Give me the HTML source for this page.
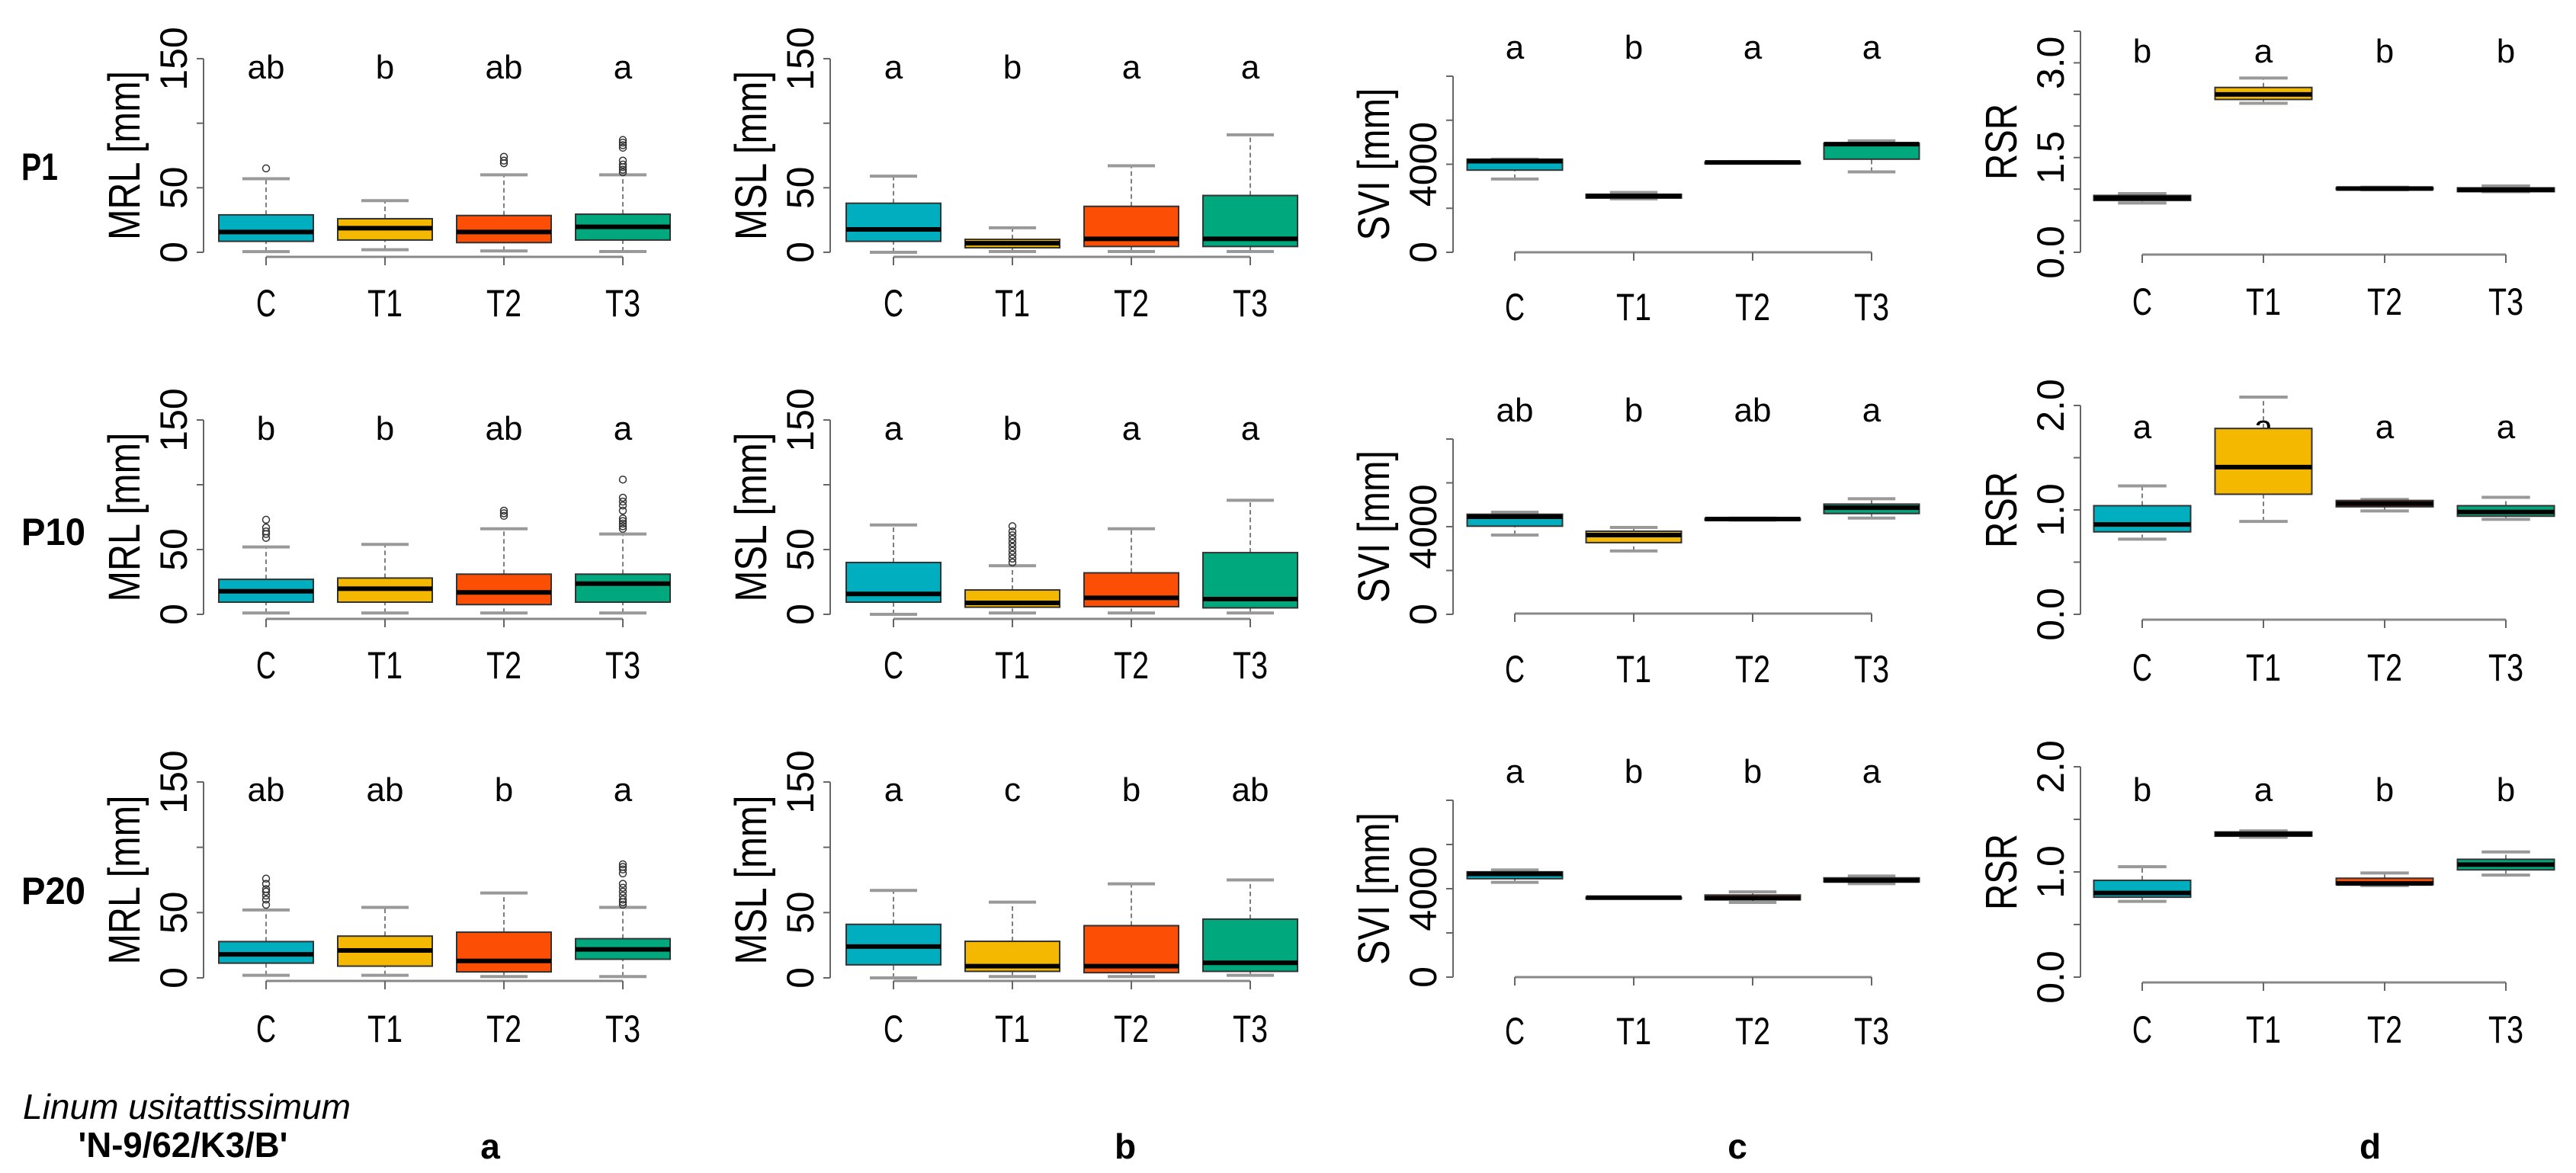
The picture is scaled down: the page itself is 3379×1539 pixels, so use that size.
<!DOCTYPE html>
<html><head><meta charset="utf-8">
<style>
html,body{margin:0;padding:0;background:#fff;}
svg{display:block;font-family:"Liberation Sans",sans-serif;}
</style></head>
<body>
<svg id="fig" width="3379" height="1539" viewBox="0 0 3379 1539" xmlns="http://www.w3.org/2000/svg"></svg>
<script>
const groups=["C","T1","T2","T3"];
const colors=["#00AFBF","#F5B800","#FC4E05","#00A87E"];
// stats: [lower whisker, q1, median, q3, upper whisker]
const mrlP1=[[0.5,8.5,15.7,29,57],[2,9.5,18.7,26,40],[1,7.5,15.7,28.5,60],[0.6,9.5,19.7,29.5,60]];
const mrlP1Out=[[65],[],[69,71,74],[62,64,66,68,71,81,83,85,87]];
const mslP1=[[0,8.5,17.7,38,59],[0.6,3.5,7,10,19],[0.6,4.5,10.4,35.6,67],[0.6,4.5,10.4,44,91]];
const svP1=[[3330,3734,4139,4231,4231],[2428,2462,2555,2636,2717],[4050,4070,4081,4095,4110],[3653,4231,4913,4948,5064]];
const rsrP1=[[0.78,0.82,0.86,0.90,0.93],[2.36,2.42,2.50,2.61,2.76],[0.99,1.00,1.01,1.02,1.03],[0.96,0.96,0.99,1.02,1.05]];
const mrlP10=[[1,9.4,17.8,27,52],[1,9.4,19.8,28,54],[1,7.5,16.9,31,66],[1,9.4,23.7,31,62]];
const mrlP10Out=[[59,62,64,67,73],[],[76,78,80],[66,68,70,72,74,80,84,87,90,104]];
const mslP10=[[0,9.4,15.7,40,69],[1,5.5,8.8,18.8,37.5],[1,5.9,12.7,32,66],[1,5,11.8,47.6,88]];
const mslP10Out=[[],[40,43,46,49,52,55,58,61,64,68],[],[]];
const svP10=[[3618,4023,4451,4566,4659],[2890,3272,3618,3792,3965],[4300,4330,4347,4365,4390],[4393,4601,4867,5029,5272]];
const rsrP10=[[0.72,0.79,0.86,1.04,1.23],[0.89,1.15,1.41,1.78,2.08],[0.99,1.03,1.06,1.09,1.10],[0.91,0.94,0.98,1.04,1.12]];
const mrlP20=[[2,11.3,18,27.8,52],[2,9,21,32,54],[1,4.6,13,35,65],[1,14.3,21.8,30,54]];
const mrlP20Out=[[56,60,63,66,68,72,76],[],[],[56,58,60,63,66,69,72,80,83,85,87]];
const mslP20=[[0,10,24,41,67],[1,5,9,28,58],[1,4,9,40,72],[2,5,11.5,45,75]];
const svP20=[[4287,4454,4669,4764,4848],[3570,3580,3594,3610,3620],[3379,3499,3570,3713,3857],[4227,4310,4370,4490,4573]];
const rsrP20=[[0.72,0.76,0.80,0.92,1.05],[1.33,1.34,1.36,1.38,1.39],[0.87,0.88,0.89,0.94,0.99],[0.97,1.02,1.07,1.12,1.19]];
const lettersMrlP1=["ab","b","ab","a"], lettersMslP1=["a","b","a","a"], lettersSvP1=["a","b","a","a"], lettersRsrP1=["b","a","b","b"];
const lettersMrlP10=["b","b","ab","a"], lettersMslP10=["a","b","a","a"], lettersSvP10=["ab","b","ab","a"], lettersRsrP10=["a","a","a","a"];
const lettersMrlP20=["ab","ab","b","a"], lettersMslP20=["a","c","b","ab"], lettersSvP20=["a","b","b","a"], lettersRsrP20=["b","a","b","b"];
const mmTicks=[0,50,100,150], mmTickLabels=["0","50","","150"];
const svTicks=[0,2000,4000,6000,8000], svTickLabels=["0","","4000","",""];
const rsr1Ticks=[0,0.5,1,1.5,2,2.5,3,3.5], rsr1TickLabels=["0.0","","","1.5","","","3.0",""];
const rsr2Ticks=[0,0.5,1,1.5,2], rsr2TickLabels=["0.0","","1.0","","2.0"];

const NS="http://www.w3.org/2000/svg";
const svg=document.getElementById("fig");
function mk(tag,attrs,parent){const e=document.createElementNS(NS,tag);for(const k in attrs)e.setAttribute(k,attrs[k]);(parent||svg).appendChild(e);return e;}

function panel(cfg){
  const g=mk("g",{});
  
  
  const vmax=cfg.ticks[cfg.ticks.length-1];
  const y=v=>cfg.y0-(v/vmax)*(cfg.y0-cfg.yTop);
  const xc=i=>cfg.cx0+i*cfg.step;
  // y axis
  const ax=mk("line",{x1:cfg.ax,x2:cfg.ax,y1:y(0),y2:y(vmax),stroke:"#666","stroke-width":2},g);
  
  
  cfg.ticks.forEach((t,i)=>{
    const tk=mk("line",{x1:cfg.ax-9,x2:cfg.ax,y1:y(t),y2:y(t),stroke:"#666","stroke-width":2},g);
    
    
    if(cfg.tickLabels[i]){
      const tl=mk("text",{x:0,y:0,transform:`translate(${cfg.ax-22},${y(t)}) rotate(-90)`,"text-anchor":"middle","font-size":50,fill:"#000"},g);
      tl.textContent=cfg.tickLabels[i];
      
      
    }
  });
  const yl=mk("text",{x:0,y:0,transform:`translate(${cfg.ax-84},${(y(0)+y(vmax))/2}) rotate(-90)`,"text-anchor":"middle","font-size":58,fill:"#000",textLength:cfg.ylabLen,lengthAdjust:"spacingAndGlyphs"},g);
  yl.textContent=cfg.ylabel;
  
  
  // x axis
  const xl=mk("line",{x1:xc(0),x2:xc(3),y1:cfg.xAxisY,y2:cfg.xAxisY,stroke:"#888","stroke-width":3},g);
  
  
  groups.forEach((grp,i)=>{
    const tk=mk("line",{x1:xc(i),x2:xc(i),y1:cfg.xAxisY,y2:cfg.xAxisY+11,stroke:"#666","stroke-width":2},g);
    
    
    const lb=mk("text",{x:xc(i),y:cfg.catY+18,"text-anchor":"middle","font-size":50,fill:"#000",textLength:grp.length===1?26:46,lengthAdjust:"spacingAndGlyphs"},g);
    lb.textContent=grp;
    
    
    const lt=mk("text",{x:xc(i),y:cfg.letY+15,"text-anchor":"middle","font-size":44,fill:"#000"},g);
    lt.textContent=cfg.letters[i];
    
    
    const s=cfg.stats[i];
    const x=xc(i), hw=cfg.bw/2, cw=cfg.bw/4;
    const wl=mk("line",{x1:x,x2:x,y1:y(s[0]),y2:y(s[1]),stroke:"#555","stroke-width":1.5,"stroke-dasharray":"6,4"},g);
    
    
    const wu=mk("line",{x1:x,x2:x,y1:y(s[3]),y2:y(s[4]),stroke:"#555","stroke-width":1.5,"stroke-dasharray":"6,4"},g);
    
    
    [s[0],s[4]].forEach(v=>{
      const c=mk("line",{x1:x-cw,x2:x+cw,y1:y(v),y2:y(v),stroke:"#999","stroke-width":4},g);
      
      
    });
    const bx=mk("rect",{x:x-hw,y:y(s[3]),width:cfg.bw,height:Math.max(y(s[1])-y(s[3]),2),fill:colors[i],stroke:"#333","stroke-width":2},g);
    
    
    const md=mk("line",{x1:x-hw,x2:x+hw,y1:y(s[2]),y2:y(s[2]),stroke:"#000","stroke-width":6},g);
    
    
    (cfg.out&&cfg.out[i]||[]).forEach(v=>{
      const o=mk("circle",{cx:x,cy:y(v),r:4.5,fill:"none",stroke:"#333","stroke-width":1.5},g);
      
      
    });
  });
}

const rows=[
 {y0:331,top:77,svTop:100,c0:331,rTop:41,rT:rsr1Ticks,rL:rsr1TickLabels,xa:337,xc:331,xd:334,la:88,lc:62,ld:67,ca:397,cc:402,cd:395,
  d:[mrlP1,mslP1,svP1,rsrP1],o:[mrlP1Out,[],null,null],L:[lettersMrlP1,lettersMslP1,lettersSvP1,lettersRsrP1],n:"p1"},
 {y0:806,top:551,svTop:576,c0:806,rTop:532,rT:rsr2Ticks,rL:rsr2TickLabels,xa:812,xc:805,xd:813,la:562,lc:538,ld:560,ca:872,cc:877,cd:875,
  d:[mrlP10,mslP10,svP10,rsrP10],o:[mrlP10Out,mslP10Out,null,null],L:[lettersMrlP10,lettersMslP10,lettersSvP10,lettersRsrP10],n:"p10"},
 {y0:1283,top:1026,svTop:1050,c0:1282,rTop:1006,rT:rsr2Ticks,rL:rsr2TickLabels,xa:1287,xc:1282,xd:1289,la:1036,lc:1012,ld:1036,ca:1349,cc:1352,cd:1350,
  d:[mrlP20,mslP20,svP20,rsrP20],o:[mrlP20Out,[],null,null],L:[lettersMrlP20,lettersMslP20,lettersSvP20,lettersRsrP20],n:"p20"}
];
rows.forEach(r=>{
  panel({name:"mrl-panel-"+r.n,ax:267,y0:r.y0,yTop:r.top,ticks:mmTicks,tickLabels:mmTickLabels,ylabel:"MRL [mm]",ylabLen:222,cx0:349,step:156,bw:124,xAxisY:r.xa,letY:r.la,catY:r.ca,letters:r.L[0],stats:r.d[0],out:r.o[0]});
  panel({name:"msl-panel-"+r.n,ax:1089,y0:r.y0,yTop:r.top,ticks:mmTicks,tickLabels:mmTickLabels,ylabel:"MSL [mm]",ylabLen:222,cx0:1172,step:156,bw:124,xAxisY:r.xa,letY:r.la,catY:r.ca,letters:r.L[1],stats:r.d[1],out:r.o[1]});
  panel({name:"svi-panel-"+r.n,ax:1906,y0:r.c0,yTop:r.svTop,ticks:svTicks,tickLabels:svTickLabels,ylabel:"SVI [mm]",ylabLen:200,cx0:1987,step:156,bw:125,xAxisY:r.xc,letY:r.lc,catY:r.cc,letters:r.L[2],stats:r.d[2],out:null});
  panel({name:"rsr-panel-"+r.n,ax:2729,y0:r.c0,yTop:r.rTop,ticks:r.rT,tickLabels:r.rL,ylabel:"RSR",ylabLen:100,cx0:2810,step:159,bw:127,xAxisY:r.xd,letY:r.ld,catY:r.cd,letters:r.L[3],stats:r.d[3],out:null});
});
</script>
<svg style="position:absolute;left:0;top:0" width="3379" height="1539">
<g font-family="Liberation Sans, sans-serif" fill="#000">
<text x="28" y="236" font-size="50" font-weight="bold" textLength="48" lengthAdjust="spacingAndGlyphs">P1</text>
<text x="28" y="715" font-size="50" font-weight="bold" textLength="84" lengthAdjust="spacingAndGlyphs">P10</text>
<text x="28" y="1186" font-size="50" font-weight="bold" textLength="84" lengthAdjust="spacingAndGlyphs">P20</text>
<text x="245" y="1468" font-size="46" font-style="italic" text-anchor="middle" textLength="430" lengthAdjust="spacingAndGlyphs">Linum usitattissimum</text>
<text x="240" y="1518" font-size="46" font-weight="bold" text-anchor="middle" textLength="275" lengthAdjust="spacingAndGlyphs">'N-9/62/K3/B'</text>
<text x="643" y="1520" font-size="46" font-weight="bold" text-anchor="middle">a</text>
<text x="1476" y="1520" font-size="46" font-weight="bold" text-anchor="middle">b</text>
<text x="2279" y="1520" font-size="46" font-weight="bold" text-anchor="middle">c</text>
<text x="3109" y="1520" font-size="46" font-weight="bold" text-anchor="middle">d</text>
</g></svg>
</body></html>
